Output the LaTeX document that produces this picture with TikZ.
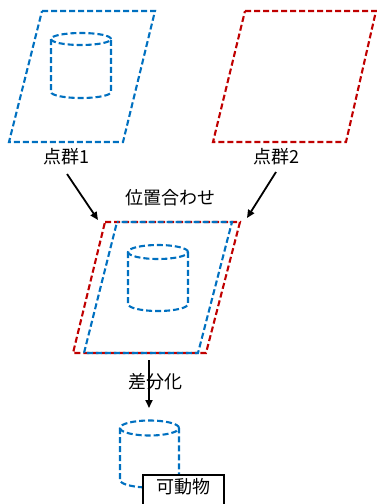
\documentclass[tikz,border=0pt]{standalone}
\usepackage{fontspec}
\setmainfont{Noto Sans CJK JP}
\usetikzlibrary{arrows.meta}
\definecolor{blueC}{RGB}{0,112,192}
\definecolor{redC}{RGB}{192,0,0}
\begin{document}
\begin{tikzpicture}[x=1pt,y=-1pt,
  bl/.style={draw=blueC, line width=2.1pt, dash pattern=on 6pt off 3pt},
  rd/.style={draw=redC, line width=2.1pt, dash pattern=on 6pt off 3pt},
  lbl/.style={font=\fontsize{18}{20}\selectfont, inner sep=0pt},
  arr/.style={-{Triangle[length=8pt,width=7pt]}, line width=1.8pt, black}]
\useasboundingbox (0,0) rectangle (377,504);

% point cloud 1
\draw[bl] (42,11) -- (155,11) -- (123,142) -- (9,142) -- cycle;
\draw[bl] (81,39) ellipse [x radius=30pt, y radius=6pt];
\draw[bl] (51,39) -- (51,92) arc[start angle=180, end angle=360, x radius=30pt, y radius=6pt] -- (111,39);
\node[lbl] (l1) at (66,157) {点群1};

% point cloud 2
\draw[rd] (245,11) -- (376,11) -- (346,142) -- (213,142) -- cycle;
\node[lbl] (l2) at (276,157) {点群2};

% registration
\node[lbl] (reg) at (170,198) {位置合わせ};
\draw[rd] (105,222) -- (240,222) -- (206,353) -- (73,353) -- cycle;
\draw[bl, dash phase=4.5pt] (117,222) -- (232,222) -- (198,353) -- (84,353) -- cycle;
\draw[bl] (158,252) ellipse [x radius=30pt, y radius=7pt];
\draw[bl] (128,252) -- (128,304) arc[start angle=180, end angle=360, x radius=30pt, y radius=7pt] -- (188,252);

\coordinate (a1s) at (67,174);
\coordinate (a1e) at (98,220);
\coordinate (a2s) at (276,172);
\coordinate (a2e) at (247,218);
\draw[arr] (a1s) -- (a1e);
\draw[arr] (a2s) -- (a2e);

% difference
\coordinate (a3s) at (149,360);
\coordinate (a3e) at (149,408);
\draw[arr] (a3s) -- (a3e);
\node[lbl] (diff) at (155,382) {差分化};

% moving object
\draw[bl] (149.5,428) ellipse [x radius=29.5pt, y radius=7.5pt];
\draw[bl] (120,428) -- (120,480) arc[start angle=180, end angle=360, x radius=29.5pt, y radius=7.5pt] -- (179,428);
\node[draw=black, line width=1.5pt, fill=white, anchor=north west, minimum width=81pt,
      inner xsep=0pt, inner ysep=7pt, text height=12pt, text depth=20pt,
      font=\fontsize{18}{20}\selectfont] (obj) at (142,474) {可動物};
\end{tikzpicture}
\end{document}
